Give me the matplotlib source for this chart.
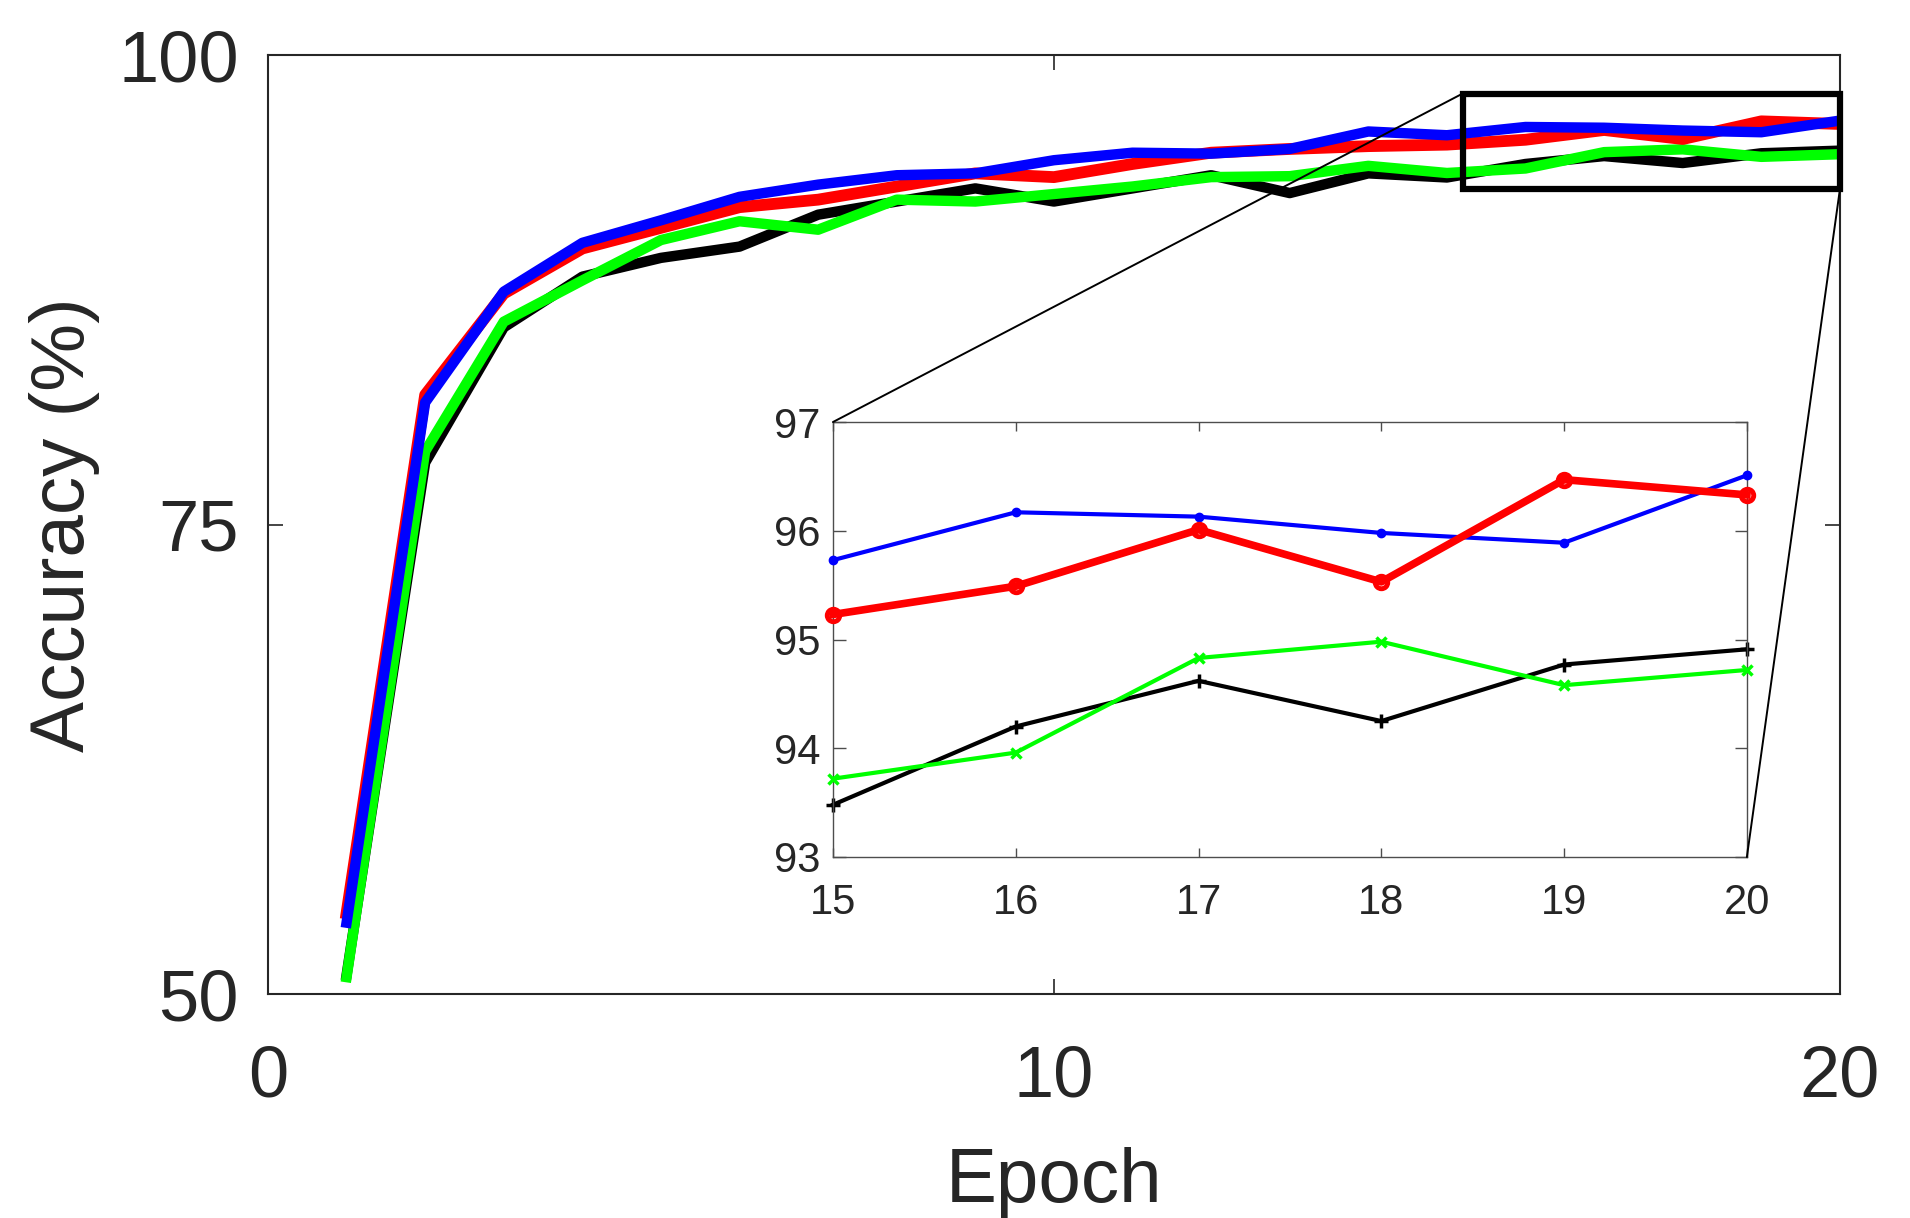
import matplotlib
matplotlib.use('Agg')
import matplotlib.pyplot as plt
from matplotlib.patches import Rectangle, ConnectionPatch

# ---------------- data ----------------
epochs = list(range(1, 21))
acc_black = [51.0, 78.3, 85.5, 88.2, 89.2, 89.8, 91.5, 92.2, 92.9, 92.2,
             92.9, 93.6, 92.65, 93.7, 93.48, 94.20, 94.62, 94.25, 94.77, 94.91]
acc_green = [50.9, 78.9, 85.8, 88.0, 90.15, 91.15, 90.7, 92.3, 92.2, 92.6,
             93.0, 93.5, 93.55, 94.1, 93.72, 93.96, 94.83, 94.98, 94.58, 94.72]
acc_red = [54.3, 81.9, 87.3, 89.7, 90.8, 91.9, 92.3, 93.0, 93.7, 93.5,
           94.2, 94.8, 95.0, 95.15, 95.23, 95.49, 96.01, 95.53, 96.47, 96.33]
acc_blue = [53.8, 81.5, 87.4, 90.0, 91.2, 92.45, 93.1, 93.6, 93.7, 94.4,
            94.8, 94.75, 95.0, 95.93, 95.73, 96.17, 96.13, 95.98, 95.89, 96.51]

main_xticks = [0, 10, 20]
main_yticks = [50, 75, 100]
inset_xticks = [15, 16, 17, 18, 19, 20]
inset_yticks = [93, 94, 95, 96, 97]
inset_start = 14  # index of epoch 15

# zoom box in data coords of the main axes
box_x0, box_x1 = 15.2, 20.0
box_y0, box_y1 = 92.85, 97.95

plt.rcParams['font.family'] = ['Liberation Sans', 'DejaVu Sans']
TXT = '#262626'

fig = plt.figure(figsize=(19.1, 12.18), dpi=100)

# ---------------- main axes ----------------
ax = fig.add_axes([0.1403, 0.1839, 0.823, 0.7709])
ax.plot(epochs, acc_black, color='k', lw=7.5, zorder=2)
ax.plot(epochs, acc_green, color='#00ff00', lw=7.5, zorder=3)
ax.plot(epochs, acc_red, color='#ff0000', lw=8.5, zorder=4)
ax.plot(epochs, acc_blue, color='#0000ff', lw=7.5, zorder=5)
ax.set_xlim(0, 20)
ax.set_ylim(50, 100)
ax.set_xticks(main_xticks)
ax.set_yticks(main_yticks)
ax.tick_params(direction='in', top=True, right=True, length=11, width=1.2,
               color=TXT, labelcolor=TXT, labelsize=52)
ax.tick_params(axis='x', pad=36)
ax.tick_params(axis='y', pad=21)
for s in ax.spines.values():
    s.set_linewidth(1.5)
    s.set_color(TXT)
ax.set_xlabel('Epoch', fontsize=55, color=TXT)
ax.set_ylabel('Accuracy (%)', fontsize=55, color=TXT)
ax.xaxis.set_label_coords(0.5, -0.163)
ax.yaxis.set_label_coords(-0.107, 0.5)

ax.add_patch(Rectangle((box_x0, box_y0), box_x1 - box_x0, box_y1 - box_y0,
                       fill=False, ec='k', lw=4.5, clip_on=False, zorder=8))

# ---------------- inset axes ----------------
axin = fig.add_axes([0.4361, 0.2964, 0.4785, 0.3571])
e_in = epochs[inset_start:]
axin.plot(e_in, acc_black[inset_start:], color='k', lw=3.0, marker='+', ms=10,
          mew=2.5, clip_on=False, zorder=2)
axin.plot(e_in, acc_green[inset_start:], color='#00ff00', lw=3.0, marker='x', ms=7,
          mew=2.5, clip_on=False, zorder=3)
axin.plot(e_in, acc_blue[inset_start:], color='#0000ff', lw=3.0, marker='o', ms=6,
          clip_on=False, zorder=4)
axin.plot(e_in, acc_red[inset_start:], color='#ff0000', lw=5.5, marker='o', ms=9,
          mfc='none', mew=3.5, clip_on=False, zorder=5)
axin.set_xlim(15, 20)
axin.set_ylim(93, 97)
axin.set_xticks(inset_xticks)
axin.set_yticks(inset_yticks)
axin.tick_params(direction='in', top=True, right=True, width=1.0,
                 color='#4d4d4d', labelcolor=TXT, labelsize=30)
axin.tick_params(axis='x', pad=19, length=6.5)
axin.tick_params(axis='y', pad=9, length=9)
for s in axin.spines.values():
    s.set_linewidth(1.0)
    s.set_color('#4d4d4d')

# ---------------- connector lines ----------------
con1 = ConnectionPatch(xyA=(box_x0, box_y1), coordsA=ax.transData,
                       xyB=(0, 1), coordsB=axin.transAxes, color='k', lw=1.4)
con2 = ConnectionPatch(xyA=(box_x1, box_y0), coordsA=ax.transData,
                       xyB=(1, 0), coordsB=axin.transAxes, color='k', lw=1.4)
fig.add_artist(con1)
fig.add_artist(con2)

fig.savefig('out.png', dpi=100, facecolor='white')
